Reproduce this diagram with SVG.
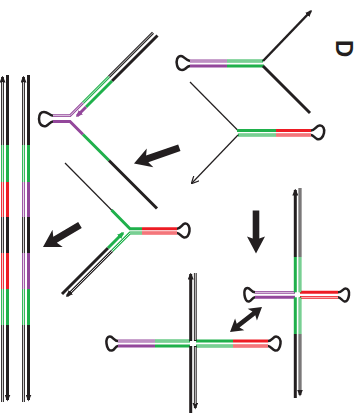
<svg xmlns="http://www.w3.org/2000/svg" width="357" height="414" viewBox="0 0 357 414">
  <style>
    .k{fill:none;stroke-width:3}
    .h{fill:none;stroke-width:2.8}
    .w{fill:none;stroke:#fff;stroke-width:0.8}
    .t{fill:none;stroke-width:1.2}
    .cb{stroke:#231f20}
    .cg{stroke:#1fb04b}
    .cr{stroke:#ed1c24}
    .cp{stroke:#93479b}
    .loop{fill:none;stroke:#231f20;stroke-width:2.5}
    .big{fill:#231f20}
    .lbl{font-family:"Liberation Sans",Arial,sans-serif;font-weight:bold;font-size:24px;fill:#231f20}
  </style>
  <defs>
    <marker id="ah-b" viewBox="0 0 7 6" refX="5.5" refY="3" markerWidth="7" markerHeight="6" markerUnits="userSpaceOnUse" orient="auto">
      <path d="M0,0 L7,3 L0,6 z" fill="#231f20"/>
    </marker>
    <marker id="ah-g" viewBox="0 0 7 6" refX="5.5" refY="3" markerWidth="7" markerHeight="6" markerUnits="userSpaceOnUse" orient="auto">
      <path d="M0,0 L7,3 L0,6 z" fill="#1fb04b"/>
    </marker>
    <marker id="ah-p" viewBox="0 0 7 6" refX="5.5" refY="3" markerWidth="7" markerHeight="6" markerUnits="userSpaceOnUse" orient="auto">
      <path d="M0,0 L7,3 L0,6 z" fill="#93479b"/>
    </marker>
    <marker id="ah-v" viewBox="0 0 8 8" refX="7" refY="4" markerWidth="8" markerHeight="8" markerUnits="userSpaceOnUse" orient="auto">
      <path d="M0,0 L8,4 L0,8" fill="none" stroke="#231f20" stroke-width="1.2"/>
    </marker>
  </defs>

  <!-- panel label -->
  <text class="lbl" transform="translate(336,40) rotate(90)">D</text>

  <!-- hairpin with purple/green stem, opening into a fork -->
  <g id="hairpin-a">
    <path class="loop" d="M190,61 C185,60 184,56 181,56 C177,56 176,61 177,65 C178,70 182,71 185,69 C187,67 188,66 190,66"/>
    <path class="h cp" d="M190,61 L227,61"/>
    <path class="h cg" d="M227,61 L263,61"/>
    <path class="w" d="M190,61 L262,61"/>
    <path class="k cp" d="M190,66 L227,66"/>
    <path class="k cg" d="M227,66 L264,66"/>
    <path class="cb" fill="none" stroke-width="2.5" d="M263,61 L311,11" marker-end="url(#ah-b)"/>
    <path class="k cb" d="M263,66 L310,113"/>
  </g>

  <!-- hairpin with green/red stem, loop on the right -->
  <g id="hairpin-b">
    <path class="t cb" d="M190,82 L238,130.5"/>
    <path class="k cg" d="M237,130.5 L276,130.5"/>
    <path class="k cr" d="M276,130.5 L311,130.5"/>
    <path class="h cg" d="M238,135 L276,135"/>
    <path class="h cr" d="M276,135 L311,135"/>
    <path class="w" d="M239,135 L311,135"/>
    <path class="loop" d="M311,130.5 C315,130.5 316,126 319.5,125.5 C323,125 325,129 324,133 C323,138 320,140 317,139 C314,137 313,135 311,135"/>
    <path class="t cb" d="M238,135 L192,183" marker-end="url(#ah-v)"/>
  </g>

  <!-- fork: purple hairpin with extended upper arm -->
  <g id="fork-a">
    <path class="loop" d="M53,115.7 C49,115 48,112 44,112 C40,112 39,116 39,119 C39,124 42,127 46,126 C49,125 50,121.5 53,121.5"/>
    <path class="h cp" d="M53,115.7 L70,115.7 L83,102.7"/>
    <path class="h cg" d="M83,102.7 L109,76.7"/>
    <path class="h cb" d="M109,76.7 L153,32.7"/>
    <path class="w" d="M53,115.7 L70,115.7 L153,32.7"/>
    <path class="k cb" d="M157.5,35.5 L112,81"/>
    <path class="k cg" d="M112,81 L86,107"/>
    <path class="k cp" d="M86,107 L77,116" marker-end="url(#ah-p)"/>
    <path class="k cp" d="M53,121.5 L70,121.5 L83,134.5"/>
    <path class="k cg" d="M83,134.5 L109,160.5"/>
    <path class="k cb" d="M109,160.5 L157,208.5"/>
  </g>

  <!-- fork: green/red hairpin with extended lower arm -->
  <g id="fork-b">
    <path class="t cb" d="M65,163 L112,210.5"/>
    <path class="k cg" d="M111.5,210 L130,228.7 L142,228.7"/>
    <path class="k cr" d="M142,228.7 L177,228.7"/>
    <path class="h cg" d="M142,233 L130,233 L112,251"/>
    <path class="h cb" d="M112,251 L67,296" marker-end="url(#ah-b)"/>
    <path class="h cr" d="M142,233 L177,233"/>
    <path class="w" d="M177,233 L130,233 L71,292"/>
    <path class="loop" d="M177,228.7 C181,228.7 182,224 185,223.5 C188,223 190,227 189.5,231 C189,235 187,238 184,237.5 C181,237 180,233 177,233"/>
    <path class="k cb" d="M62,294 L108,248"/>
    <path class="k cg" d="M108,248 L123,233" marker-end="url(#ah-g)"/>
  </g>

  <!-- linear duplex, green/red pattern -->
  <g id="duplex-a">
    <path class="h cb" d="M2.5,145 L2.5,77" marker-end="url(#ah-b)"/>
    <path class="h cg" d="M2.5,145 L2.5,182"/>
    <path class="h cr" d="M2.5,182 L2.5,217"/>
    <path class="h cb" d="M2.5,217 L2.5,253"/>
    <path class="h cr" d="M2.5,253 L2.5,289"/>
    <path class="h cg" d="M2.5,289 L2.5,325"/>
    <path class="h cb" d="M2.5,325 L2.5,402"/>
    <path class="w" d="M2.5,82 L2.5,402"/>
    <path class="k cb" d="M7.5,75 L7.5,145"/>
    <path class="k cg" d="M7.5,145 L7.5,182"/>
    <path class="k cr" d="M7.5,182 L7.5,217"/>
    <path class="k cb" d="M7.5,217 L7.5,253"/>
    <path class="k cr" d="M7.5,253 L7.5,289"/>
    <path class="k cg" d="M7.5,289 L7.5,325"/>
    <path class="k cb" d="M7.5,325 L7.5,400" marker-end="url(#ah-b)"/>
  </g>

  <!-- linear duplex, green/purple pattern -->
  <g id="duplex-b">
    <path class="h cb" d="M23.5,145 L23.5,77" marker-end="url(#ah-b)"/>
    <path class="h cg" d="M23.5,145 L23.5,182"/>
    <path class="h cp" d="M23.5,182 L23.5,217"/>
    <path class="h cb" d="M23.5,217 L23.5,253"/>
    <path class="h cp" d="M23.5,253 L23.5,289"/>
    <path class="h cg" d="M23.5,289 L23.5,325"/>
    <path class="h cb" d="M23.5,325 L23.5,402"/>
    <path class="w" d="M23.5,82 L23.5,402"/>
    <path class="k cb" d="M28.5,75 L28.5,145"/>
    <path class="k cg" d="M28.5,145 L28.5,182"/>
    <path class="k cp" d="M28.5,182 L28.5,217"/>
    <path class="k cb" d="M28.5,217 L28.5,253"/>
    <path class="k cp" d="M28.5,253 L28.5,289"/>
    <path class="k cg" d="M28.5,289 L28.5,325"/>
    <path class="k cb" d="M28.5,325 L28.5,400" marker-end="url(#ah-b)"/>
  </g>

  <!-- four-way junction, lower -->
  <g id="junction-a">
    <path class="loop" d="M118,341 C114,341 113,336.5 110,336.5 C107,336.5 106,340 106.5,343.5 C107,348 109,351 112,350.5 C115,350 115,346 118,346"/>
    <path class="h cp" d="M118,341 L155,341"/>
    <path class="h cg" d="M155,341 L190,341"/>
    <path class="w" d="M118,341 L189,341"/>
    <path class="k cp" d="M118,346 L155,346"/>
    <path class="k cg" d="M155,346 L190,346"/>
    <path class="k cg" d="M196,341 L233,341"/>
    <path class="k cr" d="M233,341 L268,341"/>
    <path class="h cg" d="M196,346 L233,346"/>
    <path class="h cr" d="M233,346 L268,346"/>
    <path class="w" d="M197,346 L268,346"/>
    <path class="loop" d="M268,341 C272,341 273,336.5 276,336.5 C279,336.5 281,340 280.5,343.5 C280,348 278,351 275,350.5 C272,350 271,346 268,346"/>
    <path class="k cb" d="M190.7,341 L190.7,274" marker-end="url(#ah-b)"/>
    <path class="h cb" d="M195.3,341 L195.3,273"/>
    <path class="w" d="M195.3,340 L195.3,273"/>
    <path class="k cb" d="M190.7,346 L190.7,413"/>
    <path class="h cb" d="M195.3,346 L195.3,408" marker-end="url(#ah-b)"/>
    <path class="w" d="M195.3,347 L195.3,404"/>
    <circle cx="193" cy="343.5" r="2.3" fill="#fff"/>
  </g>

  <!-- four-way junction, right -->
  <g id="junction-b">
    <path class="loop" d="M255,292.3 C251,292.3 250.5,288 247.5,288 C244.5,288 244,292 244.5,295 C245,299 246.5,302 249,301.5 C252,301 252,297.3 255,297.3"/>
    <path class="h cp" d="M255,292.3 L295,292.3"/>
    <path class="w" d="M255,292.3 L294,292.3"/>
    <path class="k cp" d="M255,297.3 L295,297.3"/>
    <path class="k cr" d="M300,292.3 L338,292.3"/>
    <path class="h cr" d="M300,297.3 L338,297.3"/>
    <path class="w" d="M301,297.3 L338,297.3"/>
    <path class="loop" d="M338,292.3 C342,292.3 343,288.5 345.5,288.5 C348.5,288.5 349.5,292 349,295 C348.5,299 347,302 344.5,301.5 C342,301 341,297.3 338,297.3"/>
    <path class="k cb" d="M295.3,257 L295.3,190" marker-end="url(#ah-b)"/>
    <path class="k cg" d="M295.3,257 L295.3,292.3"/>
    <path class="h cb" d="M300,257 L300,188"/>
    <path class="h cg" d="M300,257 L300,292.3"/>
    <path class="w" d="M300,292 L300,188"/>
    <path class="k cg" d="M295.3,297.3 L295.3,334"/>
    <path class="k cb" d="M295.3,334 L295.3,398"/>
    <path class="h cg" d="M300,297.3 L300,334"/>
    <path class="h cb" d="M300,334 L300,395" marker-end="url(#ah-b)"/>
    <path class="w" d="M300,298 L300,390"/>
    <circle cx="297.7" cy="294.8" r="2.3" fill="#fff"/>
  </g>

  <!-- process arrows -->
  <g id="connectors">
    <polygon class="big" transform="translate(134,163.5) rotate(160.8)" points="0,0 -17,10 -14,3.5 -48,3.5 -48,-3.5 -14,-3.5 -17,-10"/>
    <polygon class="big" transform="translate(43,247) rotate(149.3)" points="0,0 -17,10 -14,3.5 -43,3.5 -43,-3.5 -14,-3.5 -17,-10"/>
    <polygon class="big" transform="translate(256,253.5) rotate(90)" points="0,0 -17,9 -15,3.3 -43,3.3 -43,-3.3 -15,-3.3 -17,-9"/>
    <polygon class="big" transform="translate(246,319.5) rotate(-38)" points="-20.3,0 -8,-7.5 -10,-2.3 10,-2.3 8,-7.5 20.3,0 8,7.5 10,2.3 -10,2.3 -8,7.5"/>
  </g>
</svg>
